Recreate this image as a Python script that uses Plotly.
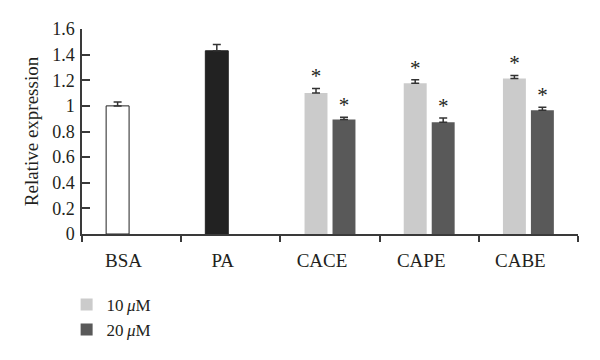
import plotly.graph_objects as go

categories = ["BSA", "PA", "CACE", "CAPE", "CABE"]
control_cats = ["BSA", "PA"]
control_vals = [1.00, 1.43]
control_err = [0.03, 0.05]
treat_cats = ["CACE", "CAPE", "CABE"]
vals_10 = [1.10, 1.177, 1.213]
err_10 = [0.035, 0.026, 0.024]
vals_20 = [0.893, 0.872, 0.966]
err_20 = [0.018, 0.034, 0.024]
y_ticks = [0, 0.2, 0.4, 0.6, 0.8, 1.0, 1.2, 1.4, 1.6]
y_ticklabels = ["0", "0.2", "0.4", "0.6", "0.8", "1", "1.2", "1.4", "1.6"]

FONT = "Liberation Serif"
TXT = "#231f20"
LIGHT = "#cbcbcb"
DARK = "#595959"

fig = go.Figure()

fig.add_trace(go.Bar(
    x=control_cats, y=control_vals,
    marker=dict(color=["#ffffff", "#222222"], line=dict(color="#222222", width=1)),
    error_y=dict(type="data", array=control_err, arrayminus=[0] * len(control_err),
                 symmetric=False, color="#333333", thickness=1.5, width=4),
    offsetgroup="a", alignmentgroup="g", showlegend=False, name="control",
))
fig.add_trace(go.Bar(
    x=treat_cats, y=vals_10, name="10\u2009<i>μ</i>M",
    marker=dict(color=LIGHT, line=dict(width=0)),
    error_y=dict(type="data", array=err_10, arrayminus=[0] * len(err_10),
                 symmetric=False, color="#333333", thickness=1.5, width=4),
    offsetgroup="a", alignmentgroup="g",
))
fig.add_trace(go.Bar(
    x=treat_cats, y=vals_20, name="20\u2009<i>μ</i>M",
    marker=dict(color=DARK, line=dict(width=0)),
    error_y=dict(type="data", array=err_20, arrayminus=[0] * len(err_20),
                 symmetric=False, color="#333333", thickness=1.5, width=4),
    offsetgroup="b", alignmentgroup="g",
))

# significance asterisks above the error bars
fig.add_trace(go.Scatter(
    x=treat_cats, y=[v + e for v, e in zip(vals_10, err_10)],
    mode="text", text=["*"] * len(treat_cats), textposition="top center",
    textfont=dict(family=FONT, size=21, color=TXT), marker=dict(size=0),
    offsetgroup="a", alignmentgroup="g", showlegend=False, hoverinfo="skip",
))
fig.add_trace(go.Scatter(
    x=treat_cats, y=[v + e for v, e in zip(vals_20, err_20)],
    mode="text", text=["*"] * len(treat_cats), textposition="top center",
    textfont=dict(family=FONT, size=21, color=TXT), marker=dict(size=0),
    offsetgroup="b", alignmentgroup="g", showlegend=False, hoverinfo="skip",
))

# the page body has an 8px default margin, so the figure is sized to fit inside it
fig.update_layout(
    width=584, height=344,
    margin=dict(l=74, r=14, t=21, b=118, autoexpand=False),
    paper_bgcolor="white", plot_bgcolor="white",
    font=dict(family=FONT, color=TXT),
    barmode="group", bargap=0.436, bargroupgap=0.18,
    scattermode="group", scattergap=0.436,
    legend=dict(x=-0.031, y=-0.258, xanchor="left", yanchor="top",
                font=dict(family=FONT, size=17, color=TXT),
                bgcolor="rgba(0,0,0,0)", traceorder="normal"),
    showlegend=True,
)
fig.update_xaxes(
    type="category", categoryorder="array", categoryarray=categories,
    showline=True, linecolor="#3a3a3a", linewidth=1.5,
    ticks="outside", ticklen=6, tickwidth=1.5, tickcolor="#3a3a3a",
    tickson="boundaries", ticklabelshift=-8, ticklabelstandoff=8,
    tickfont=dict(family=FONT, size=19, color=TXT),
    showgrid=False, zeroline=False, automargin=False,
)
fig.update_yaxes(
    range=[0, 1.6], tickvals=y_ticks, ticktext=y_ticklabels,
    showline=True, linecolor="#3a3a3a", linewidth=1.5,
    ticks="inside", ticklen=8, tickwidth=1.5, tickcolor="#3a3a3a",
    ticklabelstandoff=2,
    tickfont=dict(family=FONT, size=18, color=TXT),
    title=dict(text="Relative expression", font=dict(family=FONT, size=19, color=TXT), standoff=9),
    showgrid=False, zeroline=False, automargin=False,
)

fig.write_html("out.html")
